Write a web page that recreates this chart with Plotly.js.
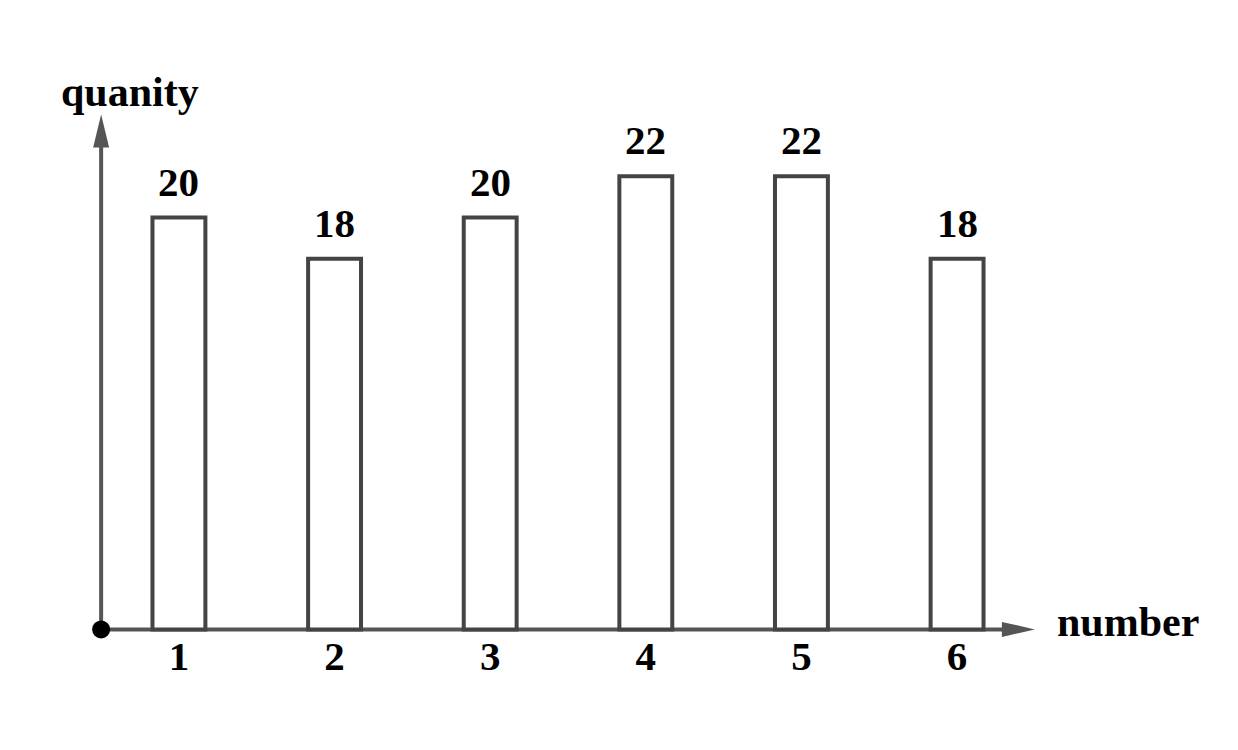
<!DOCTYPE html>
<html>
<head>
<meta charset="utf-8">
<script src="https://cdn.plot.ly/plotly-3.0.1.min.js"></script>
<style>html,body{margin:0;padding:0;background:#fff;}#chart{width:1238px;height:750px;}</style>
</head>
<body>
<div id="chart"></div>
<script>
var categories = [1, 2, 3, 4, 5, 6];
var tickLabels = ['1', '2', '3', '4', '5', '6'];
var quantities = [20, 18, 20, 22, 22, 18];
var xTitle = 'number';
var yTitle = 'quanity';

var FONT = 'Liberation Serif, Times New Roman, serif';
var AXIS_COLOR = '#555555';

var bars = {
  type: 'bar',
  x: categories,
  y: quantities,
  width: 0.34,
  marker: {color: '#ffffff', line: {color: '#444444', width: 4}},
  hoverinfo: 'skip',
  cliponaxis: false
};

var origin = {
  type: 'scatter',
  mode: 'markers',
  x: [0.5],
  y: [0],
  marker: {color: '#000000', size: 18},
  hoverinfo: 'skip',
  cliponaxis: false
};

var annotations = categories.map(function (c, i) {
  return {
    x: c, y: quantities[i], xref: 'x', yref: 'y',
    text: '<b>' + quantities[i] + '</b>',
    showarrow: false, yanchor: 'bottom', yshift: 11,
    font: {family: FONT, size: 41, color: '#000'}
  };
});
annotations.push({
  xref: 'paper', yref: 'paper', x: 1.0622, y: 0.0504,
  text: '<b>' + xTitle + '</b>', showarrow: false,
  xanchor: 'center', yanchor: 'middle',
  font: {family: FONT, size: 42, color: '#000'}
});
annotations.push({
  xref: 'paper', yref: 'paper', x: 0.0602, y: 1.0036,
  text: '<b>' + yTitle + '</b>', showarrow: false,
  xanchor: 'center', yanchor: 'middle',
  font: {family: FONT, size: 42, color: '#000'}
});

var shapes = [
  {type: 'line', xref: 'x', yref: 'y', x0: 0.5, y0: 0, x1: 6.35, y1: 0,
   line: {color: AXIS_COLOR, width: 4}, layer: 'below'},
  {type: 'line', xref: 'x', yref: 'y', x0: 0.5, y0: 0, x1: 0.5, y1: 23.8,
   line: {color: AXIS_COLOR, width: 4}, layer: 'below'},
  {type: 'path', xref: 'x', yref: 'y', xsizemode: 'pixel', ysizemode: 'pixel',
   xanchor: 6.5, yanchor: 0,
   path: 'M0,0 L-33,7.5 L-33,-7.5 Z',
   fillcolor: AXIS_COLOR, line: {width: 0}, layer: 'above'},
  {type: 'path', xref: 'x', yref: 'y', xsizemode: 'pixel', ysizemode: 'pixel',
   xanchor: 0.5, yanchor: 25,
   path: 'M0,0 L-8,-33 L8,-33 Z',
   fillcolor: AXIS_COLOR, line: {width: 0}, layer: 'above'}
];

var layout = {
  width: 1238, height: 750,
  margin: {l: 70, r: 172, t: 94, b: 100, pad: 0},
  paper_bgcolor: '#ffffff', plot_bgcolor: '#ffffff',
  showlegend: false,
  xaxis: {
    range: [0.3, 6.7], tickvals: categories, ticktext: tickLabels.map(function (t) { return '<b>' + t + '</b>'; }),
    showgrid: false, zeroline: false, showline: false, ticks: '',
    tickfont: {family: FONT, size: 41, color: '#000'},
    ticklabelstandoff: -22,
    fixedrange: true
  },
  yaxis: {
    range: [-1, 26], showgrid: false, zeroline: false, showline: false,
    showticklabels: false, ticks: '', fixedrange: true
  },
  annotations: annotations,
  shapes: shapes
};

Plotly.newPlot('chart', [bars, origin], layout, {displayModeBar: false, staticPlot: true});
</script>
</body>
</html>
